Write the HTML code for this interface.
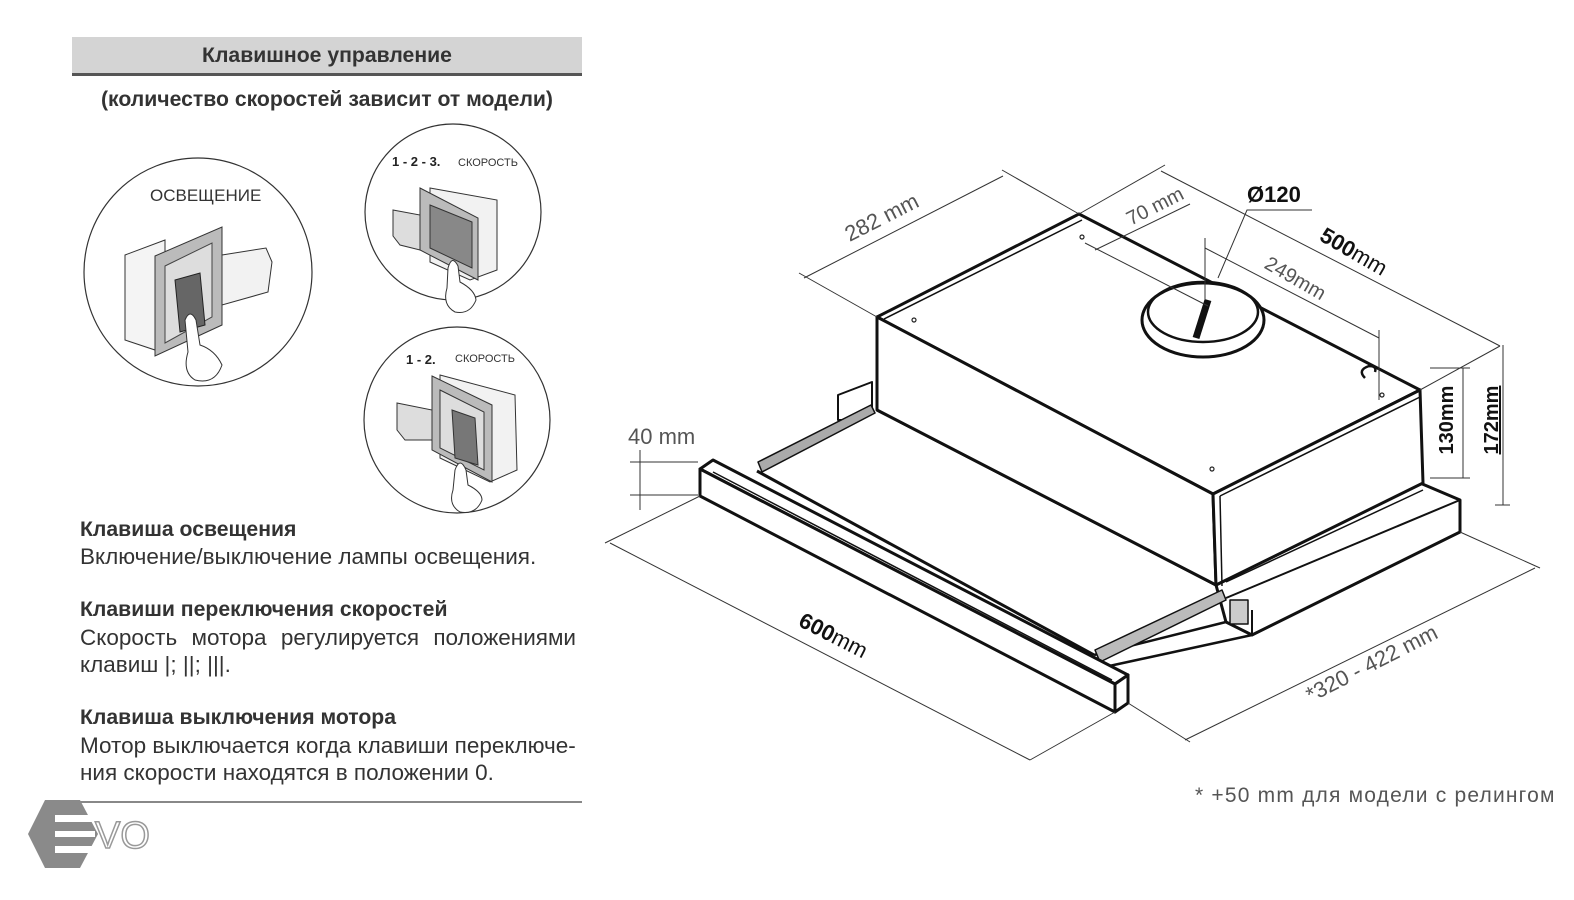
<!DOCTYPE html>
<html><head><meta charset="utf-8"><style>
body{margin:0;width:1574px;height:900px;background:#fff;overflow:hidden;position:relative;font-family:"Liberation Sans","DejaVu Sans",sans-serif;color:#222}
.t{position:absolute;font-size:22.5px;line-height:27px;color:#333}
.b{font-weight:bold;font-size:21.2px!important}
</style></head><body>
<div style="position:absolute;left:72px;top:37px;width:510px;height:36px;background:#d4d4d4;border-bottom:3px solid #555"></div>
<div class="t b" style="left:72px;top:42px;width:510px;text-align:center">Клавишное управление</div>
<div class="t b" style="left:72px;top:86px;width:510px;text-align:center">(количество скоростей зависит от модели)</div>
<div class="t b" style="left:80px;top:516px">Клавиша освещения</div>
<div class="t" style="left:80px;top:543px">Включение/выключение лампы освещения.</div>
<div class="t b" style="left:80px;top:596px">Клавиши переключения скоростей</div>
<div class="t" style="left:80px;top:624px;width:496px;text-align:justify;text-align-last:justify">Скорость мотора регулируется положениями</div>
<div class="t" style="left:80px;top:651px">клавиш |; ||; |||.</div>
<div class="t b" style="left:80px;top:704px">Клавиша выключения мотора</div>
<div class="t" style="left:80px;top:732px">Мотор выключается когда клавиши переключе-</div>
<div class="t" style="left:80px;top:759px">ния скорости находятся в положении 0.</div>
<div style="position:absolute;left:72px;top:801px;width:510px;height:2px;background:#888"></div>
<svg width="1574" height="900" style="position:absolute;left:0;top:0" font-family="Liberation Sans, sans-serif">
<polygon points="45,800 80,800 98,834 80,868 45,868 28,834" fill="#8a8a8a"/>
<rect x="55" y="815" width="40" height="7" fill="#fff"/><rect x="55" y="831" width="40" height="6" fill="#fff"/><rect x="55" y="846" width="40" height="7" fill="#fff"/>
<text x="95" y="848" font-size="38" fill="#fff" stroke="#999" stroke-width="1.5">VO</text>
<g fill="none" stroke="#333" stroke-width="1.2">
<circle cx="198" cy="272" r="114"/><circle cx="453" cy="212" r="88"/><circle cx="457" cy="420" r="93"/>
</g>
<text x="150" y="201" font-size="17" fill="#333">ОСВЕЩЕНИЕ</text>
<polygon points="125,255 165,240 165,340 155,350 125,340" fill="#f4f4f4" stroke="#333"/>
<polygon points="155,256 222,227 222,325 155,356" fill="#bbb" stroke="#333"/>
<polygon points="165,266 212,243 212,317 165,343" fill="#ddd" stroke="#444"/>
<polygon points="175,280 200,273 205,325 180,332" fill="#666" stroke="#222"/>
<polygon points="222,255 266,248 272,262 268,292 222,305" fill="#f2f2f2" stroke="#333"/>
<path d="M185,320 Q190,308 196,320 L200,345 Q215,350 222,365 Q215,385 195,380 Q182,372 188,352 Z" fill="#fff" stroke="#333"/>
<text x="392" y="166" font-size="13" font-weight="bold" fill="#222">1 - 2 - 3.</text><text x="458" y="166" font-size="11" fill="#333">СКОРОСТЬ</text>
<polygon points="430,188 497,200 497,270 470,280 430,262" fill="#f2f2f2" stroke="#333"/>
<polygon points="420,188 478,218 478,280 420,250" fill="#bbb" stroke="#333"/>
<polygon points="430,205 472,222 472,268 430,248" fill="#888" stroke="#333"/>
<polygon points="393,210 420,215 420,250 400,245 393,236" fill="#ddd" stroke="#333"/>
<path d="M448,268 Q452,254 458,266 L460,282 Q475,290 476,300 Q470,315 455,312 Q442,305 447,288 Z" fill="#fff" stroke="#333"/>
<text x="406" y="364" font-size="13" font-weight="bold" fill="#222">1 - 2.</text><text x="455" y="362" font-size="11" fill="#333">СКОРОСТЬ</text>
<polygon points="440,375 515,395 517,470 490,482 440,458" fill="#f2f2f2" stroke="#333"/>
<polygon points="432,376 492,405 492,482 432,450" fill="#bbb" stroke="#333"/>
<polygon points="440,390 484,412 484,470 440,448" fill="#ddd" stroke="#333"/>
<polygon points="452,410 475,418 478,465 455,458" fill="#777" stroke="#333"/>
<polygon points="397,403 432,410 432,440 405,440 397,430" fill="#ddd" stroke="#333"/>
<path d="M455,470 Q460,456 466,470 L468,485 Q482,492 482,500 Q476,515 460,512 Q448,505 453,490 Z" fill="#fff" stroke="#333"/>

<g stroke="#111" stroke-width="3" fill="none" stroke-linejoin="round">
<polygon points="1216,585 1420,483 1460,500 1460,532 1252,635 1226,622" fill="#fff"/>
<line x1="1226" y1="598" x2="1460" y2="500" stroke-width="2"/>
<line x1="1252" y1="610" x2="1252" y2="635" stroke-width="2"/>
<rect x="1230" y="600" width="18" height="24" fill="#ccc" stroke-width="1.5"/>
<polygon points="838,395 872,382 872,410 857,420 838,420" fill="#fff" stroke-width="2"/>
<line x1="757" y1="471" x2="1094" y2="655" stroke-width="3"/>
<line x1="877" y1="410" x2="1216" y2="585"/>
<line x1="1094" y1="655" x2="1226" y2="622" stroke-width="2.5"/>
<line x1="1100" y1="668" x2="1252" y2="635" stroke-width="2.5"/>
<polygon points="758,462 871,405 875,413 762,472" fill="#aaa" stroke-width="1.5"/>
<polygon points="1095,650 1222,590 1226,600 1100,662" fill="#bbb" stroke-width="1.5"/>
<polygon points="877,317 1079,214 1420,390 1213,494" fill="#fff"/>
<polygon points="877,317 1213,494 1216,585 877,410" fill="#fff"/>
<polygon points="1213,494 1420,390 1423,483 1216,585" fill="#fff"/>
<line x1="884" y1="319" x2="1082" y2="220" stroke-width="1.5"/>
<line x1="1220" y1="496" x2="1420" y2="397" stroke-width="1.5"/>
<line x1="1220" y1="496" x2="1222" y2="586" stroke-width="1.5"/>
<line x1="1226" y1="582" x2="1423" y2="490" stroke-width="1.5"/>
<ellipse cx="1203" cy="320" rx="61" ry="37" fill="#fff"/>
<ellipse cx="1203" cy="312" rx="55" ry="30" stroke-width="2.5"/>
<line x1="1208" y1="300" x2="1196" y2="338" stroke-width="7"/>
<path d="M1365,378 q-8,-8 4,-12 q8,0 6,6" stroke-width="2.5"/>
<polygon points="700,469 713,460 1128,675 1115,684" fill="#fff"/>
<polygon points="700,469 1115,684 1115,712 700,496" fill="#fff"/>
<polygon points="1115,684 1128,675 1128,703 1115,712" fill="#fff"/>
<line x1="713" y1="472" x2="1112" y2="680" stroke-width="1.5"/>
</g>
<g fill="#fff" stroke="#222" stroke-width="1.2">
<circle cx="1082" cy="237" r="2"/><circle cx="914" cy="320" r="2"/><circle cx="1212" cy="469" r="2"/><circle cx="1382" cy="395" r="2"/>
</g>
<g stroke="#333" stroke-width="1" fill="none">
<line x1="804" y1="278" x2="1003" y2="176"/><line x1="799" y1="273" x2="877" y2="317"/><line x1="1002" y1="170" x2="1079" y2="214"/>
<line x1="1161" y1="171" x2="1500" y2="346"/><line x1="1165" y1="165" x2="1079" y2="214"/><line x1="1500" y1="346" x2="1420" y2="390"/>
<line x1="1095" y1="250" x2="1190" y2="204"/><line x1="1085" y1="243" x2="1208" y2="306"/>
<line x1="1205" y1="248" x2="1379" y2="338"/><line x1="1205" y1="238" x2="1205" y2="300"/><line x1="1379" y1="330" x2="1379" y2="400"/>
<path d="M1312,210 L1247,210 L1218,278"/>
<line x1="610" y1="543" x2="1030" y2="760"/><line x1="605" y1="543" x2="700" y2="496"/><line x1="1030" y1="760" x2="1115" y2="712"/>
<line x1="1185" y1="740" x2="1535" y2="568"/><line x1="1128" y1="703" x2="1190" y2="742"/><line x1="1460" y1="532" x2="1540" y2="568"/>
<line x1="1463" y1="368" x2="1463" y2="478"/><line x1="1430" y1="368" x2="1470" y2="368"/><line x1="1430" y1="478" x2="1470" y2="478"/>
<line x1="1503" y1="345" x2="1503" y2="505"/><line x1="1495" y1="505" x2="1510" y2="505"/>
<line x1="630" y1="462" x2="698" y2="462"/><line x1="630" y1="495" x2="698" y2="495"/><line x1="640" y1="450" x2="640" y2="510"/>
</g>
<g fill="#555" font-size="22">
<text transform="translate(885,224) rotate(-27)" text-anchor="middle">282 mm</text>
<text transform="translate(1158,212) rotate(-27)" text-anchor="middle" font-size="20">70 mm</text>
<text x="1247" y="202" font-weight="bold" fill="#111" font-size="22">Ø120</text>
<text transform="translate(1350,258) rotate(30)" text-anchor="middle" fill="#111"><tspan font-weight="bold">500</tspan>mm</text>
<text transform="translate(1292,284) rotate(30)" text-anchor="middle" font-size="20">249mm</text>
<text transform="translate(1453,420) rotate(-90)" text-anchor="middle" font-weight="bold" fill="#111" font-size="20">130mm</text>
<text transform="translate(1498,420) rotate(-90)" text-anchor="middle" font-weight="bold" fill="#111" font-size="20" text-decoration="underline">172mm</text>
<text x="628" y="444" font-size="22">40 mm</text>
<text transform="translate(830,642) rotate(27)" text-anchor="middle" fill="#111"><tspan font-weight="bold">600</tspan>mm</text>
<text transform="translate(1375,670) rotate(-27)" text-anchor="middle">*320 - 422 mm</text>
<text x="1195" y="802" font-size="21" letter-spacing="1.2" fill="#555">* +50 mm для модели с релингом</text>
</g>
</svg>
</body></html>
